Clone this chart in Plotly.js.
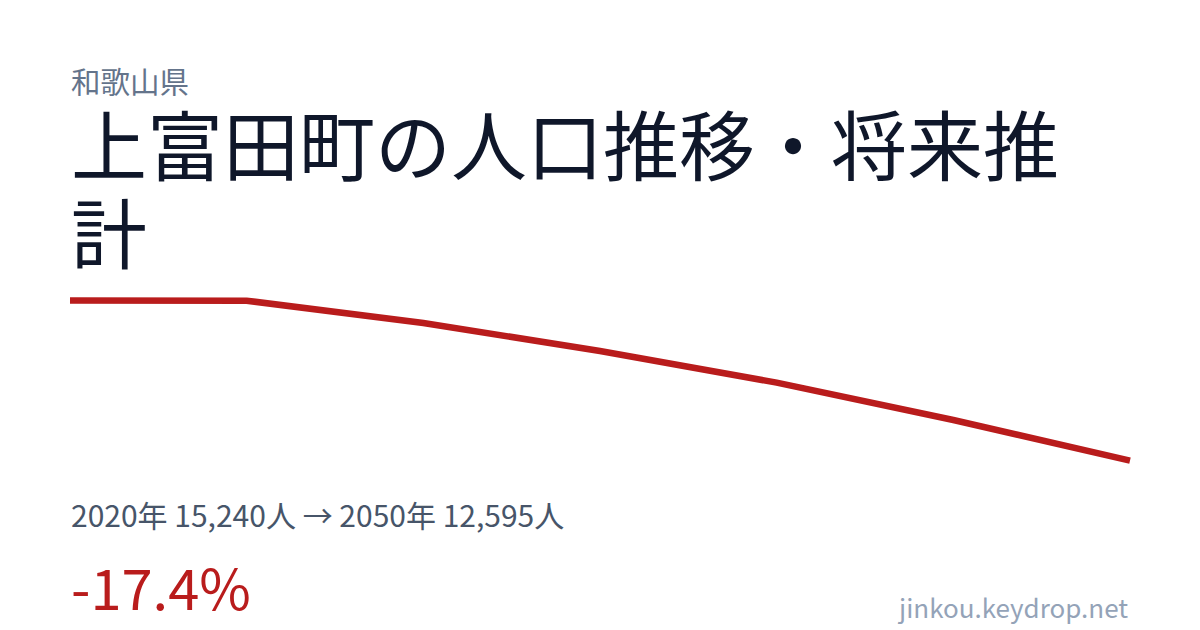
<!DOCTYPE html>
<html>
<head>
<meta charset="utf-8">
<script src="https://cdn.plot.ly/plotly-3.0.1.min.js"></script>
<style>
  html, body { margin: 0; padding: 0; background: #ffffff; }
  #chart { width: 1200px; height: 630px; }
</style>
</head>
<body>
<div id="chart"></div>
<script>
// Data
const years = [2020, 2025, 2030, 2035, 2040, 2045, 2050];
const population = [15240, 15236, 14869, 14406, 13883, 13267, 12595];

const prefecture = "和歌山県";
const titleLine1 = "上富田町の人口推移・将来推";
const titleLine2 = "計";
const summaryText = "2020年 15,240人 → 2050年 12,595人";
const changeText = "-17.4%";
const sourceText = "jinkou.keydrop.net";

const FONT = '"Noto Sans CJK JP", "Noto Sans", sans-serif';

// layout geometry (pixels)
const W = 1200, H = 630;
const mL = 50, mR = 50, mT = 280, mB = 150;
const plotW = W - mL - mR, plotH = H - mT - mB;
const px = x => (x - mL) / plotW;
const py = y => (H - mB - y) / plotH;

const trace = {
  x: years,
  y: population,
  type: 'scatter',
  mode: 'lines',
  line: { color: '#b91c1c', width: 6.5 },
  hoverinfo: 'skip'
};

const layout = {
  width: W, height: H,
  margin: { l: mL, r: mR, t: mT, b: mB, pad: 0 },
  paper_bgcolor: '#ffffff',
  plot_bgcolor: '#ffffff',
  showlegend: false,
  xaxis: { range: [2019.434, 2050.566], visible: false, fixedrange: true },
  yaxis: { range: [12276, 15578], visible: false, fixedrange: true },
  annotations: [
    { text: prefecture, xref: 'paper', yref: 'paper', x: px(68.5), y: py(80),
      xanchor: 'left', yanchor: 'middle', showarrow: false, height: 32,
      font: { family: FONT, size: 29.5, color: '#64748b' } },
    { text: titleLine1, xref: 'paper', yref: 'paper', x: px(68.5), y: py(141.5),
      xanchor: 'left', yanchor: 'middle', showarrow: false, height: 84,
      font: { family: FONT, size: 76, color: '#0f172a' } },
    { text: titleLine2, xref: 'paper', yref: 'paper', x: px(68.5), y: py(229.5),
      xanchor: 'left', yanchor: 'middle', showarrow: false, height: 84,
      font: { family: FONT, size: 76, color: '#0f172a' } },
    { text: summaryText, xref: 'paper', yref: 'paper', x: px(68.5), y: py(514),
      xanchor: 'left', yanchor: 'middle', showarrow: false,
      font: { family: FONT, size: 30, color: '#475569' } },
    { text: changeText, xref: 'paper', yref: 'paper', x: px(68.5), y: py(585),
      xanchor: 'left', yanchor: 'middle', showarrow: false,
      font: { family: FONT, size: 56, color: '#b91c1c' } },
    { text: sourceText, xref: 'paper', yref: 'paper', x: px(1130), y: py(606),
      xanchor: 'right', yanchor: 'middle', showarrow: false,
      font: { family: FONT, size: 26, color: '#94a3b8' } }
  ]
};

Plotly.newPlot('chart', [trace], layout, { staticPlot: true, displayModeBar: false });
</script>
</body>
</html>
